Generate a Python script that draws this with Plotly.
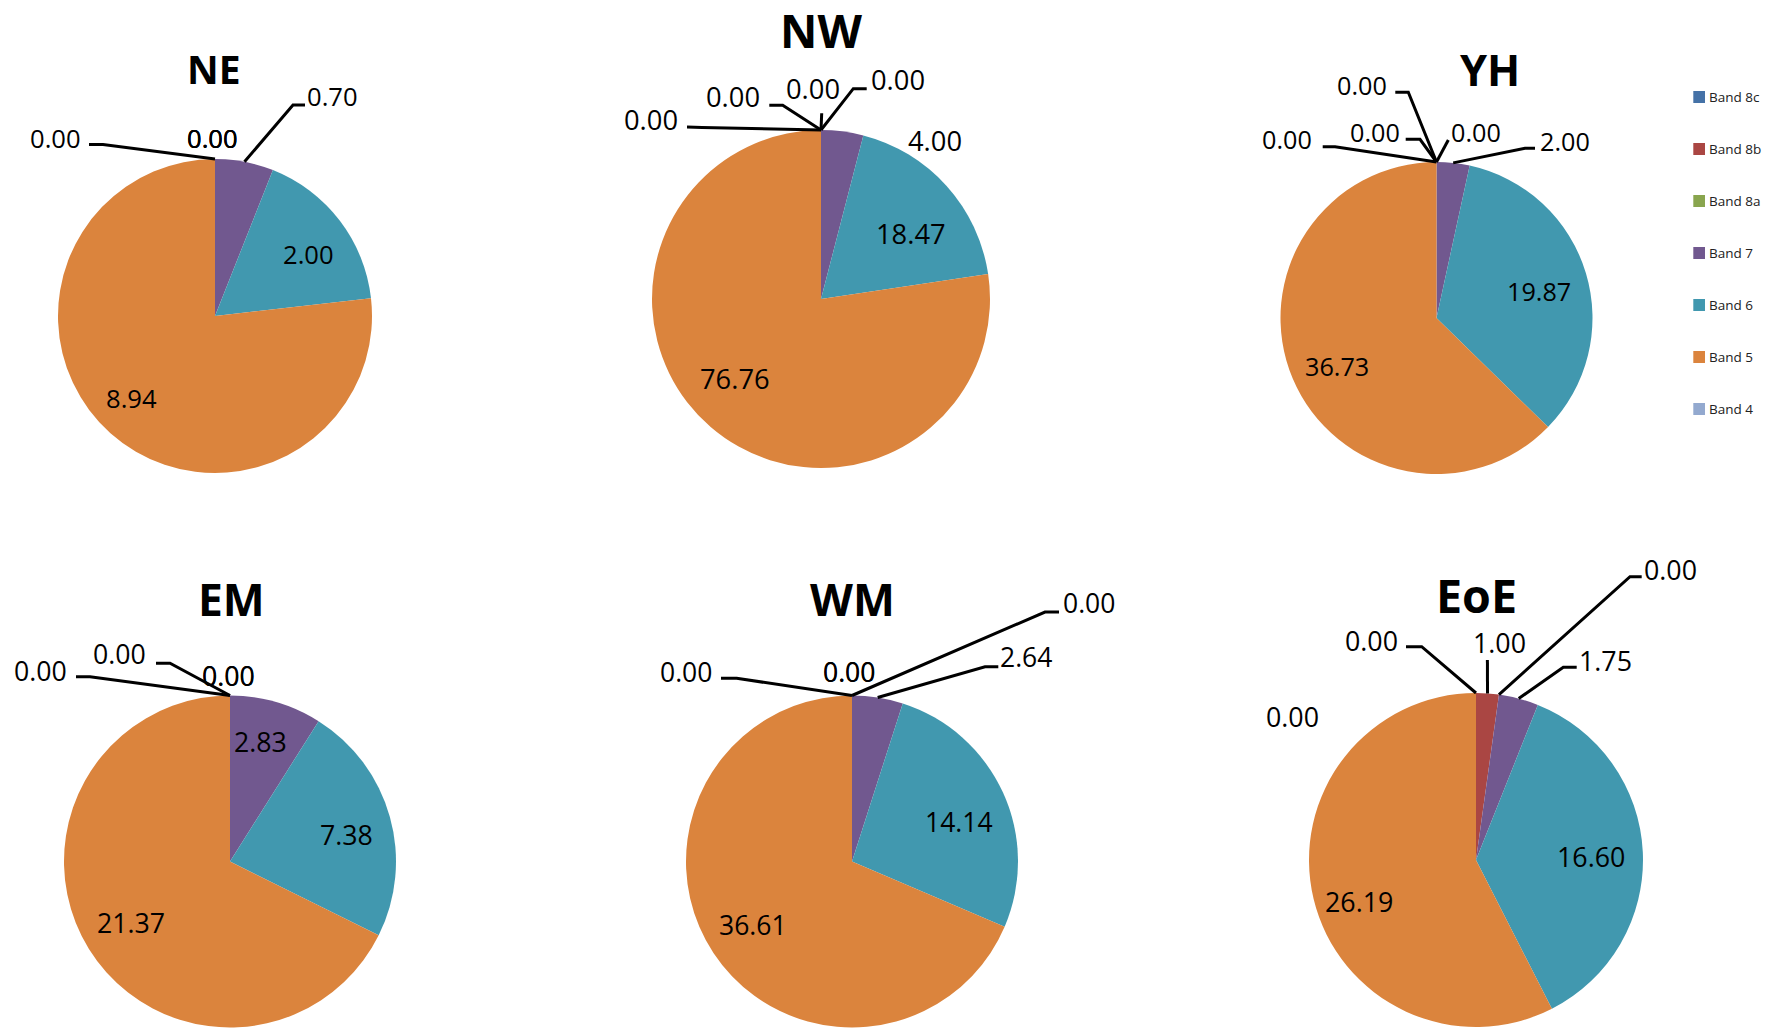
import math
import plotly.graph_objects as go

W, H = 1767, 1028

# Band shares by region
bands = ["Band 8c", "Band 8b", "Band 8a", "Band 7", "Band 6", "Band 5", "Band 4"]
band_colors = ["#4572A7", "#AA4643", "#89A54E", "#71588F", "#4198AF", "#DB843D", "#93A9CF"]

regions = ["NE", "NW", "YH", "EM", "WM", "EoE"]
ne_values = [0.00, 0.00, 0.00, 0.70, 2.00, 8.94, 0.00]
nw_values = [0.00, 0.00, 0.00, 4.00, 18.47, 76.76, 0.00]
yh_values = [0.00, 0.00, 0.00, 2.00, 19.87, 36.73, 0.00]
em_values = [0.00, 0.00, 0.00, 2.83, 7.38, 21.37, 0.00]
wm_values = [0.00, 0.00, 0.00, 2.64, 14.14, 36.61, 0.00]
eoe_values = [0.00, 1.00, 0.00, 1.75, 16.60, 26.19, 0.00]
region_values = [ne_values, nw_values, yh_values, em_values, wm_values, eoe_values]

# Layout of each pie (pixel centre, radius), title and label font sizes
pie_layout = {
    "NE":  dict(c=(215, 316), r=157, title=(214, 69), tsize=39, fsize=25.6),
    "NW":  dict(c=(821, 299), r=169, title=(821, 30), tsize=46, fsize=27.3),
    "YH":  dict(c=(1436.5, 318), r=156, title=(1490, 69.5), tsize=43.4, fsize=25.2),
    "EM":  dict(c=(230, 861.5), r=166, title=(231, 599), tsize=44.4, fsize=26.7),
    "WM":  dict(c=(852, 861.5), r=166, title=(852, 599), tsize=44.4, fsize=26.5),
    "EoE": dict(c=(1476, 860), r=167, title=(1476.5, 595), tsize=46.6, fsize=26.8),
}

# Data-label placement: (band index, label centre, leader waypoints before the slice edge)
label_layout = {
    "NE": [
        (6, (55, 138.5), [(89, 144.5), (103, 144.5)]),
        (0, (212.7, 138.5), None), (1, (212.7, 138.5), None), (2, (212.7, 138.5), None),
        (3, (332.7, 96), [(305, 105), (293, 105)]),
        (4, (308.3, 254.7), None),
        (5, (131.3, 398.8), None),
    ],
    "NW": [
        (6, (650.8, 119.7), [(687, 127), (702, 127.5)]),
        (0, (733, 96.7), [(769.3, 105.3), (782.7, 105.3)]),
        (1, (812.5, 88.3), [(821.7, 113.3)]),
        (2, (897.8, 80), [(866.7, 88.7), (853.3, 88.7)]),
        (3, (935, 140.8), None),
        (4, (910.5, 233.7), None),
        (5, (735, 378.3), None),
    ],
    "YH": [
        (6, (1287, 138.7), [(1322.7, 146.7), (1335, 146.7)]),
        (0, (1362, 85), [(1395.3, 92.3), (1408.3, 92.3)]),
        (1, (1374.7, 131.7), [(1405.7, 139.3), (1420, 139.3)]),
        (2, (1475.7, 131.7), [(1448.3, 140)]),
        (3, (1564.7, 140.8), [(1535, 148.3), (1525, 148.3)]),
        (4, (1538.7, 290.5), None),
        (5, (1336.7, 365.8), None),
    ],
    "EM": [
        (6, (40.8, 670.5), [(76, 676.7), (90, 676.7)]),
        (0, (119.7, 653.8), [(156, 663.3), (170, 663.3)]),
        (1, (228.3, 675), None), (2, (228.3, 675), None),
        (3, (260.3, 741.8), None),
        (4, (346.3, 834.5), None),
        (5, (130.5, 922.5), None),
    ],
    "WM": [
        (6, (685.8, 672), [(721, 678.3), (736.7, 678.3)]),
        (0, (848.8, 672), None), (1, (848.8, 672), None),
        (2, (1088.6, 603.3), [(1059, 612), (1045, 612)]),
        (3, (1025.8, 657.2), [(998.3, 666.7), (985, 666.7)]),
        (4, (959.2, 822.2), None),
        (5, (752.5, 925), None),
    ],
    "EoE": [
        (0, (1371.2, 640.5), [(1406, 646.7), (1421.7, 646.7)]),
        (1, (1499.3, 642.5), [(1487.4, 660)]),
        (2, (1670.7, 569.7), [(1641.7, 576.7), (1630, 576.7)]),
        (3, (1605.5, 660.8), [(1576.7, 667.3), (1563.3, 667.3)]),
        (4, (1591, 856.5), None),
        (5, (1359, 901.5), None),
        (6, (1292.7, 716.3), None),
    ],
}

FONT = "Open Sans"


def px(x):
    return x / W


def py(y):
    return 1 - y / H


def clamp(v):
    return min(1.0, max(0.0, v))


def slice_edge_point(values, idx, c, r):
    """Point on the rim at the middle of slice idx (clockwise from 12 o'clock)."""
    total = sum(values)
    before = sum(values[:idx])
    theta = 2 * math.pi * (before + values[idx] / 2) / total
    return c[0] + r * math.sin(theta), c[1] - r * math.cos(theta)


fig = go.Figure()
annotations = []
shapes = []

for name, vals in zip(regions, region_values):
    g = pie_layout[name]
    (cx, cy), r = g["c"], g["r"]
    fig.add_trace(go.Pie(
        labels=bands,
        values=vals,
        name=name,
        sort=False,
        direction="clockwise",
        rotation=0,
        marker=dict(colors=band_colors, line=dict(width=0)),
        textinfo="none",
        textposition="none",
        hoverinfo="label+value",
        showlegend=False,
        domain=dict(x=[clamp(px(cx - r)), clamp(px(cx + r))],
                    y=[clamp(py(cy + r)), clamp(py(cy - r))]),
    ))

    # Region title
    tx, ty = g["title"]
    annotations.append(dict(
        x=px(tx), y=py(ty), xref="paper", yref="paper", text=f"<b>{name}</b>",
        showarrow=False, xanchor="center", yanchor="middle",
        font=dict(family=FONT, size=g["tsize"], color="#000000"),
    ))

    # Value labels and leader lines
    for idx, (lx, ly), waypoints in label_layout[name]:
        annotations.append(dict(
            x=px(lx), y=py(ly), xref="paper", yref="paper",
            text=f"{vals[idx]:.2f}", showarrow=False,
            xanchor="center", yanchor="middle",
            font=dict(family=FONT, size=g["fsize"], color="#000000"),
        ))
        if waypoints:
            ex, ey = slice_edge_point(vals, idx, (cx, cy), r)
            pts = list(waypoints) + [(ex, ey)]
            path = "M " + " L ".join(f"{px(x):.6f},{py(y):.6f}" for x, y in pts)
            shapes.append(dict(type="path", path=path, xref="paper", yref="paper",
                               line=dict(color="#000000", width=3), layer="above"))

# Legend column on the right
legend_x = 1693.3
legend_y0, legend_step = 97, 52
for i, (b, col) in enumerate(zip(bands, band_colors)):
    yc = legend_y0 + i * legend_step
    shapes.append(dict(type="rect", xref="paper", yref="paper",
                       x0=px(legend_x), x1=px(legend_x + 11.7),
                       y0=py(yc + 6), y1=py(yc - 6),
                       fillcolor=col, line=dict(width=0)))
    annotations.append(dict(
        x=px(legend_x + 14), y=py(yc), xref="paper", yref="paper", text=b,
        showarrow=False, xanchor="left", yanchor="middle",
        font=dict(family=FONT, size=13.5, color="#222222"),
    ))

fig.update_layout(
    width=W, height=H,
    margin=dict(l=0, r=0, t=0, b=0),
    paper_bgcolor="white",
    plot_bgcolor="white",
    showlegend=False,
    annotations=annotations,
    shapes=shapes,
)

fig.write_html("out.html")
